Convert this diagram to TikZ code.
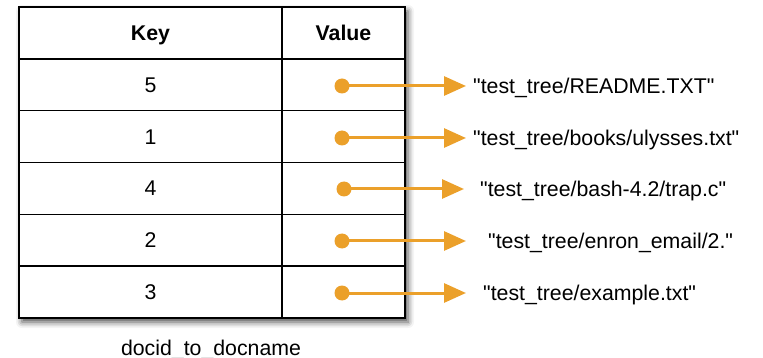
\documentclass[tikz,border=0pt]{standalone}
\usepackage{fontspec}
\setmainfont[Ligatures=TeXOff]{Liberation Sans}
\usetikzlibrary{arrows.meta,shadows.blur}
\definecolor{arrorange}{RGB}{235,160,42}
\newcommand{\dq}{\symbol{34}}
\begin{document}
\begin{tikzpicture}[x=1pt,y=-1pt,
  every node/.style={font=\fontsize{21.3}{25}\selectfont},
  cell/.style={draw=black, line width=1.6pt, minimum height=51.83pt, inner sep=0pt, outer sep=0pt, text height=15pt, text depth=0pt},
  keycell/.style={cell, minimum width=263pt},
  valcell/.style={cell, minimum width=123pt},
  pdot/.style={circle, fill=arrorange, inner sep=0pt, minimum size=15pt},
  parrow/.style={draw=arrorange, line width=3pt, -{Triangle[length=22pt,width=19pt]}},
  lab/.style={anchor=base west, inner sep=0pt}
]
\useasboundingbox (0,0) rectangle (763,358);
% shadowed backdrop of the table
\path[fill=white, blur shadow={shadow xshift=3pt, shadow yshift=-4pt, shadow blur radius=6pt, shadow opacity=70}] (19,7) rectangle (405,318);
% header
\node[keycell] (k0) at (150.5,32.9) {\bfseries Key};
\node[valcell] (v0) at (343.5,32.9) {\bfseries Value};
% rows
\node[keycell] (k1) at (150.5,84.75) {5};
\node[valcell] (v1) at (343.5,84.75) {};
\node[keycell] (k2) at (150.5,136.6) {1};
\node[valcell] (v2) at (343.5,136.6) {};
\node[keycell] (k3) at (150.5,188.4) {4};
\node[valcell] (v3) at (343.5,188.4) {};
\node[keycell] (k4) at (150.5,240.25) {2};
\node[valcell] (v4) at (343.5,240.25) {};
\node[keycell] (k5) at (150.5,292.1) {3};
\node[valcell] (v5) at (343.5,292.1) {};
% dots
\node[pdot] (d1) at (342,86) {};
\node[pdot] (d2) at (342,138) {};
\node[pdot] (d3) at (344,189) {};
\node[pdot] (d4) at (342,241) {};
\node[pdot] (d5) at (342,293) {};
% arrow tips
\coordinate (t1) at (466,86);
\coordinate (t2) at (466,138);
\coordinate (t3) at (464,189);
\coordinate (t4) at (466,241);
\coordinate (t5) at (466,293);
\draw[parrow] (d1.center) -- (t1);
\draw[parrow] (d2.center) -- (t2);
\draw[parrow] (d3.center) -- (t3);
\draw[parrow] (d4.center) -- (t4);
\draw[parrow] (d5.center) -- (t5);
% labels
\node[lab] (l1) at (473,93.5) {\dq test\_tree/README.TXT\dq};
\node[lab] (l2) at (473,145.5) {\dq test\_tree/books/ulysses.txt\dq};
\node[lab] (l3) at (480,196.5) {\dq test\_tree/bash-4.2/trap.c\dq};
\node[lab] (l4) at (488,248.5) {\dq test\_tree/enron\_email/2.\dq};
\node[lab] (l5) at (483,300.5) {\dq test\_tree/example.txt\dq};
% caption
\node[anchor=base, inner sep=0pt] (cap) at (211,355) {docid\_to\_docname};
\end{tikzpicture}
\end{document}
